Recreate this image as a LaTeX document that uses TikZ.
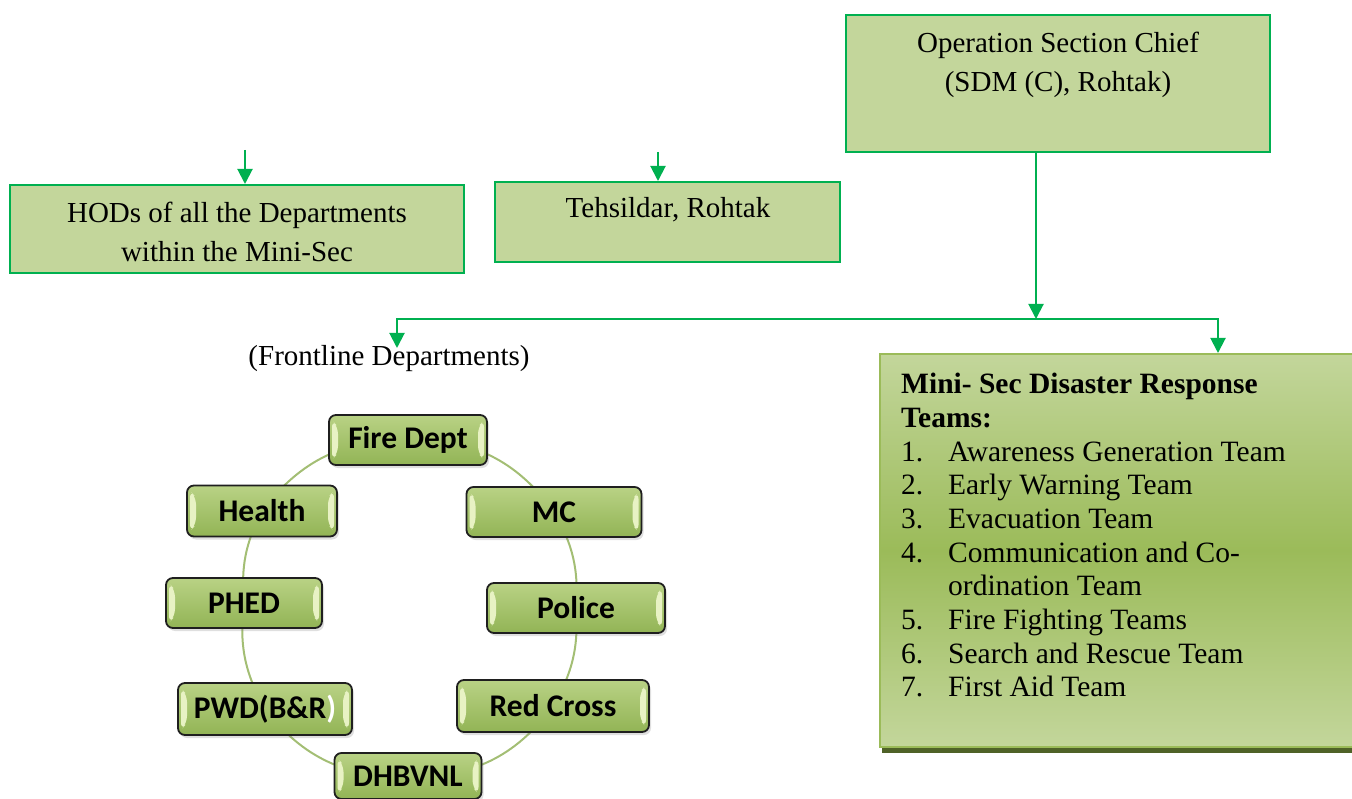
\documentclass[tikz,border=0pt]{standalone}
\usepackage{fontspec}
\setmainfont{Liberation Serif}
\newfontfamily\carl{Carlito}
\usetikzlibrary{arrows.meta,shadows,calc,backgrounds}
\definecolor{boxfill}{HTML}{C3D69B}
\definecolor{boxline}{HTML}{00B050}
\definecolor{ringline}{HTML}{A3BE74}
\definecolor{nodetop}{HTML}{B9D285}
\definecolor{nodebot}{HTML}{92B455}
\definecolor{bevelc}{HTML}{E8F2C4}
\definecolor{midgreen}{HTML}{9BBB59}
\definecolor{shadowgreen}{HTML}{4F6228}
\begin{document}
\begin{tikzpicture}[x=1pt,y=-1pt,
  conn/.style={draw=boxline,line width=2pt,-{Triangle[width=15pt,length=15pt]}},
  orgbox/.style={draw=boxline,line width=2pt,fill=boxfill,inner sep=0pt},
  txt/.style={font=\fontsize{29}{39}\selectfont,align=center,inner sep=0pt},
  ring/.style={draw=ringline,line width=2pt},
  dept/.style={draw=black!88,line width=1.8pt,rounded corners=7pt,
    top color=nodetop,bottom color=nodebot,
    font=\carl\bfseries\fontsize{31.5}{31.5}\selectfont,inner sep=0pt,
    drop shadow={opacity=0.25,shadow xshift=2pt,shadow yshift=-3pt},
    path picture={
      \fill[bevelc] ($(path picture bounding box.north west)+(3pt,-5pt)$) -- ++(6pt,-7pt)
        -- ($(path picture bounding box.south west)+(9pt,12pt)$)
        -- ($(path picture bounding box.south west)+(3pt,5pt)$) -- cycle;
      \fill[bevelc] ($(path picture bounding box.north east)+(-3pt,-5pt)$) -- ++(-6pt,-7pt)
        -- ($(path picture bounding box.south east)+(-9pt,12pt)$)
        -- ($(path picture bounding box.south east)+(-3pt,5pt)$) -- cycle;
    }},
  listtxt/.style={font=\fontsize{29.5}{33.7}\selectfont,align=left,inner sep=0pt}
]
\useasboundingbox (0,0) rectangle (1352,799);

% top boxes
\node[orgbox,minimum width=424pt,minimum height=137pt] (op) at (1058,83.5) {};
\node[txt,anchor=base] (optext) at (1058,92) {Operation Section Chief\\(SDM (C), Rohtak)};

\node[orgbox,minimum width=345pt,minimum height=80pt] (teh) at (667.5,222) {};
\node[txt,anchor=base] (tehtext) at (668,218) {Tehsildar, Rohtak};

\node[orgbox,minimum width=454pt,minimum height=88pt] (hod) at (237,229) {};
\node[txt,anchor=base] (hodtext) at (237,262) {HODs of all the Departments\\within the Mini-Sec};

\coordinate (hodin) at (245,150);
\coordinate (tehin) at (658,152);
\draw[conn] (hodin) -- (hod.north -| hodin);
\draw[conn] (tehin) -- (teh.north -| tehin);

% Mini-Sec teams box
\fill[shadowgreen] (882,746) rectangle (1360,753);
\node[draw=midgreen,line width=2pt,top color=boxfill,bottom color=boxfill,middle color=midgreen,
      minimum width=482pt,minimum height=393pt,inner sep=0pt] (ms) at (1121,550.5) {};
\node[listtxt,anchor=north west] (mstext) at (901,373) {%
\textbf{Mini- Sec Disaster Response}\\
\textbf{Teams:}\\
\makebox[47pt][l]{1.}Awareness Generation Team\\
\makebox[47pt][l]{2.}Early Warning Team\\
\makebox[47pt][l]{3.}Evacuation Team\\
\makebox[47pt][l]{4.}Communication and Co-\\
\hspace*{47pt}ordination Team\\
\makebox[47pt][l]{5.}Fire Fighting Teams\\
\makebox[47pt][l]{6.}Search and Rescue Team\\
\makebox[47pt][l]{7.}First Aid Team};

% frontline label
\node[txt,anchor=base] (front) at (389,366) {(Frontline Departments)};

% connectors from operation chief
\coordinate (jn) at (1036,319);
\coordinate (fl) at (397,348);
\draw[conn] (op.south -| jn) -- (jn);
\draw[conn] (jn) -| (fl);
\draw[conn] (jn) -| ($(ms.north west)+(339pt,0pt)$);

% ring of departments
\node[dept,minimum width=158pt,minimum height=50pt] (fire) at (408,440) {Fire Dept};
\node[dept,minimum width=150pt,minimum height=51pt] (health) at (262,511) {Health};
\node[dept,minimum width=175pt,minimum height=50pt] (mc) at (554,512) {MC};
\node[dept,minimum width=156pt,minimum height=50pt] (phed) at (244,603) {PHED};
\node[dept,minimum width=178pt,minimum height=50pt] (police) at (576,608) {Police};
\node[dept,minimum width=174pt,minimum height=52pt] (pwd) at (265,709) {PWD(B\&R\textcolor{white}{)}};
\node[dept,minimum width=192pt,minimum height=52pt] (redcross) at (553,706) {Red Cross};
\node[dept,minimum width=147pt,minimum height=46pt] (dhbvnl) at (408,776) {DHBVNL};

\begin{scope}[on background layer]
\draw[ring] (fire.center) to[bend right=27] (health.center);
\draw[ring] (health.center) to[bend right=16] (phed.center);
\draw[ring] (phed.center) to[bend right=18] (pwd.center);
\draw[ring] (pwd.center) to[bend right=27] (dhbvnl.center);
\draw[ring] (dhbvnl.center) to[bend right=28] (redcross.center);
\draw[ring] (redcross.center) to[bend right=17] (police.center);
\draw[ring] (police.center) to[bend right=17] (mc.center);
\draw[ring] (mc.center) to[bend right=28] (fire.center);
\end{scope}
\end{tikzpicture}
\end{document}
